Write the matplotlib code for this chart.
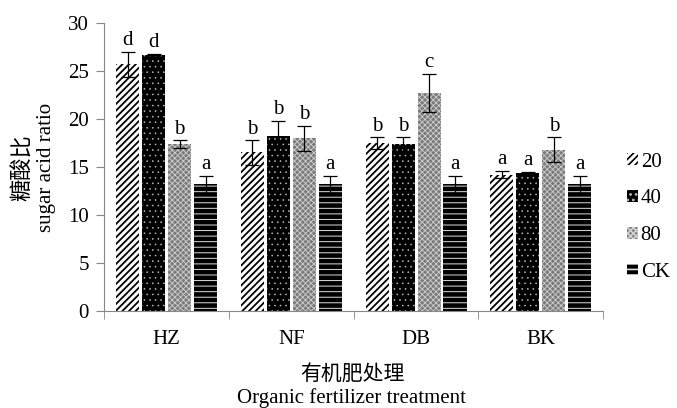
import numpy as np
import matplotlib.pyplot as plt
from matplotlib.patches import Patch

plt.rcParams['font.family'] = ['Liberation Serif', 'Noto Sans CJK SC']
plt.rcParams['hatch.linewidth'] = 1.2

groups = ["HZ", "NF", "DB", "BK"]
series = ["20", "40", "80", "CK"]
values = {
    "20": [25.7, 16.5, 17.5, 14.2],
    "40": [26.7, 18.2, 17.4, 14.4],
    "80": [17.4, 18.0, 22.7, 16.8],
    "CK": [13.2, 13.2, 13.2, 13.2],
}
errors = {
    "20": [1.3, 1.3, 0.6, 0.4],
    "40": [0.1, 1.6, 0.7, 0.1],
    "80": [0.4, 1.3, 2.0, 1.3],
    "CK": [0.9, 0.9, 0.9, 0.9],
}
letters = {
    "20": ["d", "b", "b", "a"],
    "40": ["d", "b", "b", "a"],
    "80": ["b", "b", "c", "b"],
    "CK": ["a", "a", "a", "a"],
}

styles = {
    "20": dict(facecolor="white", edgecolor="black", hatch="/////"),
    "40": dict(facecolor="black", edgecolor="#bbbbbb", hatch="..."),
    "80": dict(facecolor="#7a7a7a", edgecolor="#d0d0d0", hatch="xxxxxx"),
    "CK": dict(facecolor="black", edgecolor="#dddddd", hatch="---"),
}
hatch_lw = {"20": 1.3, "40": 0.4, "80": 0.6, "CK": 0.7}
fs = 15

fig = plt.figure(figsize=(6.77, 4.08), dpi=100)
ax = fig.add_axes([0.154, 0.238, 0.737, 0.706])

x = np.arange(len(groups))
w = 0.185
step = 0.208
for i, s in enumerate(series):
    pos = x + (i - 1.5) * step
    bars = ax.bar(pos, values[s], w, linewidth=0, **styles[s])
    for b in bars:
        b.set_hatch_linewidth(hatch_lw[s])
    ax.errorbar(pos, values[s], yerr=errors[s], fmt="none", ecolor="black",
                elinewidth=0.9, capsize=5, capthick=0.9)
    for p, v, e, t in zip(pos, values[s], errors[s], letters[s]):
        ax.annotate(t, (p, v + e), xytext=(0, 1), textcoords="offset points",
                    ha="center", va="bottom", fontsize=fs)

ax.set_xlim(-0.5, 3.5)
ax.set_ylim(0, 30)
ax.set_yticks(range(0, 31, 5))
ax.set_xticks(x)
ax.set_xticklabels(groups)
ax.set_xticks(np.arange(-0.5, 3.6, 1), minor=True)
ax.tick_params(axis="x", which="major", length=0, pad=14)
ax.tick_params(axis="x", which="minor", length=6, color="#888888")
ax.tick_params(axis="y", length=6, color="#888888", pad=5)
ax.tick_params(labelsize=fs)
for side in ["top", "right"]:
    ax.spines[side].set_visible(False)
for side in ["left", "bottom"]:
    ax.spines[side].set_color("#888888")

fig.text(0.521, 0.081, "有机肥处理", ha="center", va="center", fontsize=fs)
fig.text(0.519, 0.0245, "Organic fertilizer treatment", ha="center", va="center",
         fontsize=fs)
fig.text(0.035, 0.59, "糖酸比", ha="center", va="center", fontsize=fs + 1,
         rotation=90)
fig.text(0.069, 0.59, "sugar acid ratio", ha="center", va="center", fontsize=fs,
         rotation=90)

handles = []
for s in series:
    h = Patch(linewidth=0, **styles[s])
    h.set_hatch_linewidth(hatch_lw[s])
    handles.append(h)
ax.legend(handles, series, loc="center left", bbox_to_anchor=(1.048, 0.325),
          borderaxespad=0, borderpad=0,
          frameon=False, fontsize=fs, handlelength=0.5, handleheight=0.5,
          handletextpad=0.15, labelspacing=0.85)

fig.savefig("out.png", dpi=100)
